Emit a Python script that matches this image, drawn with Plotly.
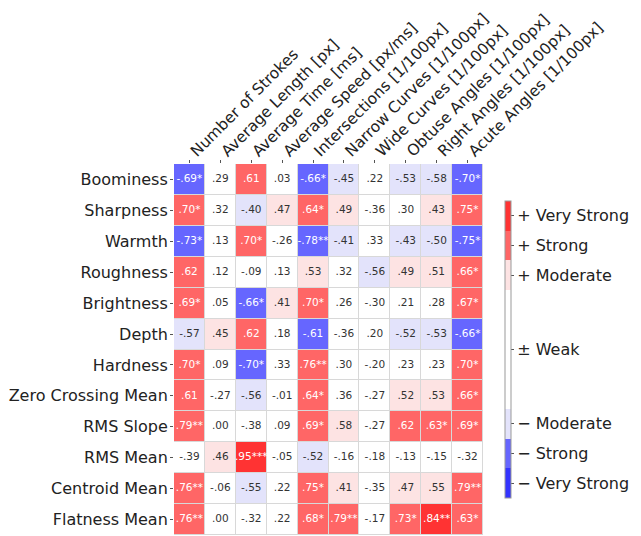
import plotly.graph_objects as go

features = ["Number of Strokes", "Average Length [px]", "Average Time [ms]",
            "Average Speed [px/ms]", "Intersections [1/100px]", "Narrow Curves [1/100px]",
            "Wide Curves [1/100px]", "Obtuse Angles [1/100px]", "Right Angles [1/100px]",
            "Acute Angles [1/100px]"]
descriptors = ["Boominess", "Sharpness", "Warmth", "Roughness", "Brightness", "Depth",
               "Hardness", "Zero Crossing Mean", "RMS Slope", "RMS Mean",
               "Centroid Mean", "Flatness Mean"]

r_values = [
    [-.69, .29, .61, .03, -.66, -.45, .22, -.53, -.58, -.70],
    [.70, .32, -.40, .47, .64, .49, -.36, .30, .43, .75],
    [-.73, .13, .70, -.26, -.78, -.41, .33, -.43, -.50, -.75],
    [.62, .12, -.09, .13, .53, .32, -.56, .49, .51, .66],
    [.69, .05, -.66, .41, .70, .26, -.30, .21, .28, .67],
    [-.57, .45, .62, .18, -.61, -.36, .20, -.52, -.53, -.66],
    [.70, .09, -.70, .33, .76, .30, -.20, .23, .23, .70],
    [.61, -.27, -.56, -.01, .64, .36, -.27, .52, .53, .66],
    [.79, .00, -.38, .09, .69, .58, -.27, .62, .63, .69],
    [-.39, .46, .95, -.05, -.52, -.16, -.18, -.13, -.15, -.32],
    [.76, -.06, -.55, .22, .75, .41, -.35, .47, .55, .79],
    [.76, .00, -.32, .22, .68, .79, -.17, .73, .84, .63],
]
stars = [
    ["*", "", "", "", "*", "", "", "", "", "*"],
    ["*", "", "", "", "*", "", "", "", "", "*"],
    ["*", "", "*", "", "**", "", "", "", "", "*"],
    ["", "", "", "", "", "", "", "", "", "*"],
    ["*", "", "*", "", "*", "", "", "", "", "*"],
    ["", "", "", "", "", "", "", "", "", "*"],
    ["*", "", "*", "", "**", "", "", "", "", "*"],
    ["", "", "", "", "*", "", "", "", "", "*"],
    ["**", "", "", "", "*", "", "", "", "*", "*"],
    ["", "", "***", "", "", "", "", "", "", ""],
    ["**", "", "", "", "*", "", "", "", "", "**"],
    ["**", "", "", "", "*", "**", "", "*", "**", "*"],
]
class_labels = ["− Very Strong", "− Strong", "− Moderate", "± Weak",
                "+ Moderate", "+ Strong", "+ Very Strong"]
class_mid = [-0.9, -0.7, -0.5, 0.0, 0.5, 0.7, 0.9]
colors = ["#3333ff", "#6666ff", "#e3e3fb", "#ffffff", "#fde3e3", "#ff6666", "#ff3333"]
bounds = [-1, -0.8, -0.6, -0.4, 0.4, 0.6, 0.8, 1]


def classify(v):
    a = abs(v) + 1e-9
    if a >= 0.8:
        k = 3
    elif a >= 0.6:
        k = 2
    elif a >= 0.4:
        k = 1
    else:
        k = 0
    return 3 + k if v > 0 else 3 - k


def fmt(v):
    s = f"{v:.2f}"
    s = s.replace("0.", ".", 1)
    return s


zc = [[class_mid[classify(v)] for v in row] for row in r_values]

colorscale = []
for i, c in enumerate(colors):
    lo = (bounds[i] + 1) / 2
    hi = (bounds[i + 1] + 1) / 2
    colorscale.append([lo, c])
    colorscale.append([hi, c])

fig = go.Figure()
fig.add_trace(go.Heatmap(
    z=zc, x=features, y=descriptors, zmin=-1, zmax=1,
    colorscale=colorscale, xgap=1, ygap=1, hoverinfo="skip",
    colorbar=dict(
        x=1.071, xanchor="left", xref="paper", xpad=0, ypad=0,
        y=0.5, yanchor="middle", len=0.8,
        thickness=6, outlinewidth=1, outlinecolor="#999999",
        tickvals=class_mid, ticktext=class_labels, ticks="outside", ticklen=3,
        tickcolor="#555555", tickfont=dict(size=16, color="#222222"),
    ),
))

tx, ty, tt, tcol = [], [], [], []
for i, d in enumerate(descriptors):
    for j, f in enumerate(features):
        v = r_values[i][j]
        tx.append(f)
        ty.append(d)
        tt.append(fmt(v) + stars[i][j])
        k = classify(v)
        tcol.append("#ffffff" if k in (0, 1, 5, 6) else "#333333")

fig.add_trace(go.Scatter(
    x=tx, y=ty, text=tt, mode="text", textposition="middle center",
    textfont=dict(size=10.5, color=tcol, family="DejaVu Sans"),
    hoverinfo="skip", showlegend=False,
))

fig.update_layout(
    width=633, height=528,
    margin=dict(l=166, r=158, t=156, b=1, autoexpand=False),
    plot_bgcolor="#d8d8d8", paper_bgcolor="#ffffff",
    font=dict(family="DejaVu Sans", color="#222222"),
    showlegend=False,
)
fig.update_xaxes(side="top", tickangle=-45, tickfont=dict(size=15.5),
                 range=[-0.5, len(features) - 0.5],
                 ticklabelstandoff=-6, ticklabelshift=2,
                 ticks="outside", ticklen=3, tickcolor="#555555",
                 showgrid=False, zeroline=False, automargin=False)
fig.update_yaxes(range=[len(descriptors) - 0.5, -0.5], tickfont=dict(size=16),
                 ticklabelstandoff=-1,
                 ticks="outside", ticklen=3, tickcolor="#555555",
                 showgrid=False, zeroline=False, automargin=False)

fig.write_html("out.html")
